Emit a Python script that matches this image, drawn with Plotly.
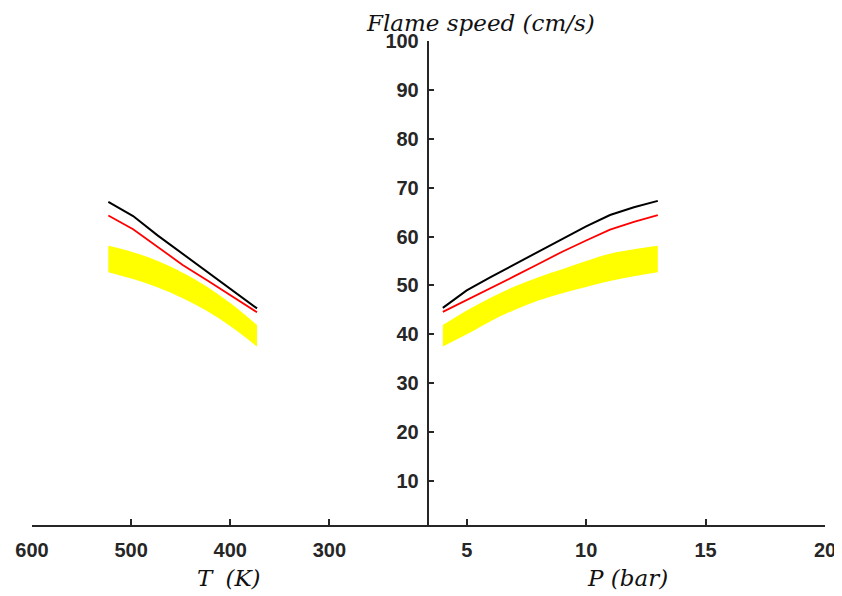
import plotly.graph_objs as go

# Temperature side (left half, reversed axis)
T = [373, 398, 423, 448, 473, 498, 523]
T_black = [45.3, 49.0, 52.7, 56.4, 60.2, 64.2, 67.1]
T_red = [44.5, 47.8, 51.0, 54.2, 57.9, 61.5, 64.3]
T_band_hi = [41.9, 46.1, 49.7, 52.6, 55.0, 56.8, 58.1]
T_band_lo = [37.5, 41.4, 44.7, 47.4, 49.6, 51.3, 52.7]

# Pressure side (right half)
P = [4, 5, 6, 7, 8, 9, 10, 11, 12, 13]
P_black = [45.4, 49.0, 51.7, 54.3, 57.0, 59.6, 62.1, 64.4, 66.0, 67.3]
P_red = [44.6, 47.0, 49.5, 51.9, 54.4, 56.9, 59.2, 61.4, 63.0, 64.4]
P_band_hi = [41.9, 44.9, 47.5, 49.8, 51.7, 53.3, 55.0, 56.5, 57.4, 58.1]
P_band_lo = [37.5, 40.0, 42.7, 45.0, 46.9, 48.4, 49.7, 50.9, 51.9, 52.7]

y_ticks = [10, 20, 30, 40, 50, 60, 70, 80, 90, 100]

axis_col = '#262626'
tick_font = dict(family='Liberation Sans, Arial', size=20, color=axis_col, weight='bold')
label_font = dict(family='DejaVu Serif, serif', size=23, color='#111111', style='italic')

yellow = '#ffff00'

data = [
    # uncertainty bands (lower edge first, upper edge filled down to it)
    go.Scatter(x=T, y=T_band_lo, xaxis='x', yaxis='y', mode='lines',
               line=dict(width=0, shape='spline', color=yellow)),
    go.Scatter(x=T, y=T_band_hi, xaxis='x', yaxis='y', mode='lines',
               fill='tonexty', fillcolor=yellow,
               line=dict(width=0, shape='spline', color=yellow)),
    go.Scatter(x=P, y=P_band_lo, xaxis='x2', yaxis='y', mode='lines',
               line=dict(width=0, shape='spline', color=yellow)),
    go.Scatter(x=P, y=P_band_hi, xaxis='x2', yaxis='y', mode='lines',
               fill='tonexty', fillcolor=yellow,
               line=dict(width=0, shape='spline', color=yellow)),
    # model curves
    go.Scatter(x=T, y=T_red, xaxis='x', yaxis='y', mode='lines',
               line=dict(color='#ff0000', width=1.8)),
    go.Scatter(x=P, y=P_red, xaxis='x2', yaxis='y', mode='lines',
               line=dict(color='#ff0000', width=1.8)),
    go.Scatter(x=T, y=T_black, xaxis='x', yaxis='y', mode='lines',
               line=dict(color='#000000', width=2)),
    go.Scatter(x=P, y=P_black, xaxis='x2', yaxis='y', mode='lines',
               line=dict(color='#000000', width=2)),
]

common = dict(ticks='inside', ticklen=6, tickwidth=1.5, tickcolor=axis_col,
              showline=True, linecolor=axis_col, linewidth=1.5,
              showgrid=False, zeroline=False, tickfont=tick_font,
              automargin=False)

# page body has an 8px margin, so the figure is 8px smaller on each side
layout = go.Layout(
    width=834, height=588,
    margin=dict(l=24, r=17, t=33, b=71),
    paper_bgcolor='white', plot_bgcolor='white',
    showlegend=False,
    xaxis=dict(domain=[0, 0.5], range=[600, 200], anchor='y',
               tickvals=[300, 400, 500, 600], ticklabelstandoff=6, **common),
    xaxis2=dict(domain=[0.5, 1], range=[3.4, 20], anchor='y',
                tickvals=[5, 10, 15, 20], ticklabelstandoff=6, **common),
    yaxis=dict(domain=[0, 1], range=[1, 100], anchor='x2',
               tickvals=y_ticks, ticklabelstandoff=4, **common),
    annotations=[
        dict(text='Flame speed (cm/s)', x=0.566, y=1.068, xref='paper', yref='paper',
             xanchor='center', yanchor='top', showarrow=False, font=label_font),
        dict(text='T \u2005(K)', x=0.2487, y=-0.1095, xref='paper', yref='paper',
             xanchor='center', yanchor='middle', showarrow=False, font=label_font),
        dict(text='P (bar)', x=0.7504, y=-0.1095, xref='paper', yref='paper',
             xanchor='center', yanchor='middle', showarrow=False, font=label_font),
    ],
)

fig = go.Figure(data=data, layout=layout)
fig.write_html('out.html')
